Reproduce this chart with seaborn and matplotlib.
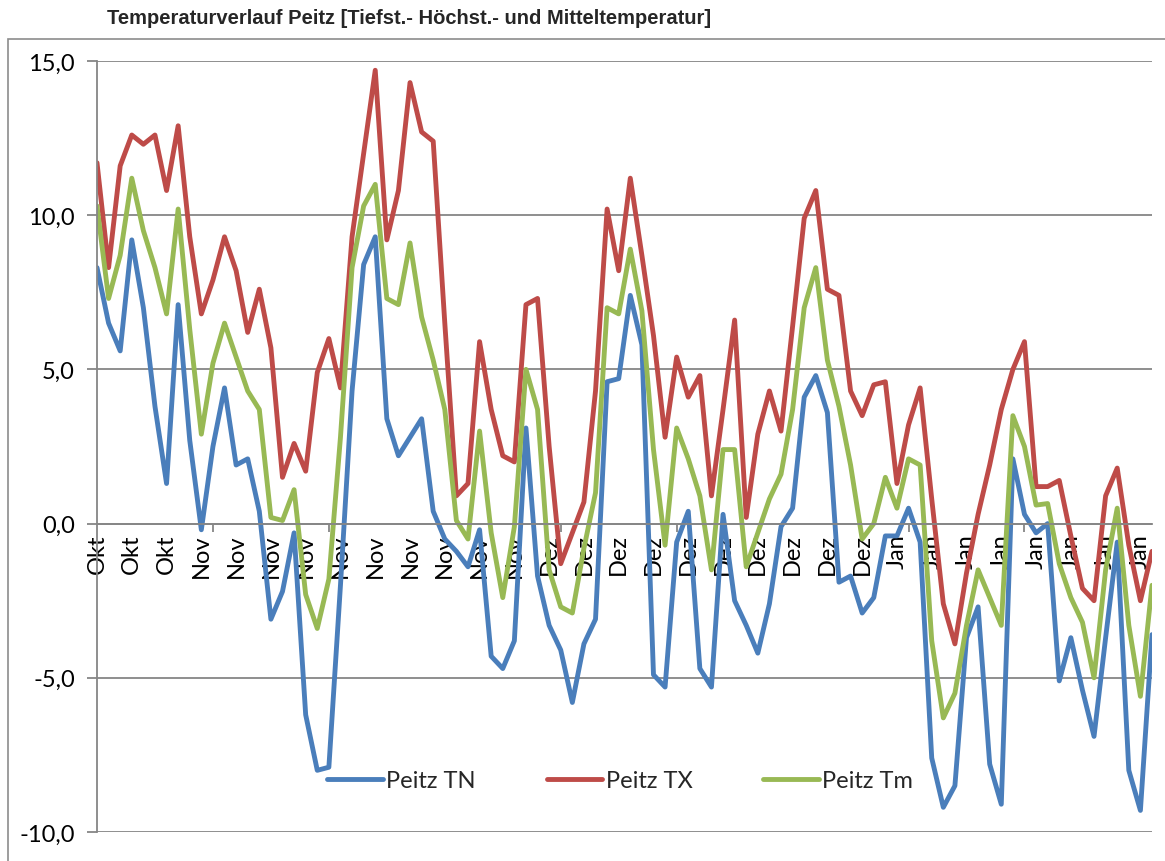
import numpy as np
import pandas as pd
import seaborn as sns
import matplotlib.pyplot as plt
from matplotlib.patches import Rectangle

# Tagesreihen Peitz
tn = [8.3, 6.5, 5.6, 9.2, 7.0, 3.8, 1.3, 7.1, 2.7, -0.2,
      2.5, 4.4, 1.9, 2.1, 0.4, -3.1, -2.2, -0.3, -6.2, -8.0,
      -7.9, -2.0, 4.3, 8.4, 9.3, 3.4, 2.2, 2.8, 3.4, 0.4,
      -0.5, -0.9, -1.4, -0.2, -4.3, -4.7, -3.8, 3.1, -1.7, -3.3,
      -4.1, -5.8, -3.9, -3.1, 4.6, 4.7, 7.4, 5.8, -4.9, -5.3,
      -0.6, 0.4, -4.7, -5.3, 0.3, -2.5, -3.3, -4.2, -2.6, -0.1,
      0.5, 4.1, 4.8, 3.6, -1.9, -1.7, -2.9, -2.4, -0.4, -0.4,
      0.5, -0.6, -7.6, -9.2, -8.5, -3.7, -2.7, -7.8, -9.1, 2.1,
      0.3, -0.3, 0.0, -5.1, -3.7, -5.4, -6.9, -3.7, -0.6, -8.0,
      -9.3, -3.6]
tx = [11.7, 8.3, 11.6, 12.6, 12.3, 12.6, 10.8, 12.9, 9.3, 6.8,
      7.9, 9.3, 8.2, 6.2, 7.6, 5.7, 1.5, 2.6, 1.7, 4.9,
      6.0, 4.4, 9.3, 12.0, 14.7, 9.2, 10.8, 14.3, 12.7, 12.4,
      6.5, 0.9, 1.3, 5.9, 3.7, 2.2, 2.0, 7.1, 7.3, 2.5,
      -1.3, -0.3, 0.7, 4.3, 10.2, 8.2, 11.2, 8.7, 6.1, 2.8,
      5.4, 4.1, 4.8, 0.9, 3.7, 6.6, 0.2, 2.9, 4.3, 3.0,
      6.4, 9.9, 10.8, 7.6, 7.4, 4.3, 3.5, 4.5, 4.6, 1.3,
      3.2, 4.4, 0.8, -2.6, -3.9, -1.6, 0.3, 1.9, 3.7, 5.0,
      5.9, 1.2, 1.2, 1.4, -0.4, -2.1, -2.5, 0.9, 1.8, -0.7,
      -2.5, -0.9]
tm = [10.3, 7.3, 8.7, 11.2, 9.5, 8.3, 6.8, 10.2, 6.3, 2.9,
      5.2, 6.5, 5.4, 4.3, 3.7, 0.2, 0.1, 1.1, -2.3, -3.4,
      -1.8, 2.8, 8.3, 10.3, 11.0, 7.3, 7.1, 9.1, 6.7, 5.3,
      3.7, 0.1, -0.5, 3.0, -0.3, -2.4, -0.1, 5.0, 3.7, -1.5,
      -2.7, -2.9, -0.8, 1.0, 7.0, 6.8, 8.9, 6.9, 2.4, -0.7,
      3.1, 2.1, 0.9, -1.5, 2.4, 2.4, -1.4, -0.3, 0.8, 1.6,
      3.7, 7.0, 8.3, 5.3, 3.8, 1.9, -0.5, 0.0, 1.5, 0.5,
      2.1, 1.9, -3.8, -6.3, -5.5, -3.3, -1.5, -2.4, -3.3, 3.5,
      2.5, 0.6, 0.65, -1.3, -2.4, -3.2, -5.0, -1.5, 0.5, -3.3,
      -5.6, -2.0]

series_names = ["Peitz TN", "Peitz TX", "Peitz Tm"]
tick_labels = ["Okt"] * 3 + ["Nov"] * 10 + ["Dez"] * 10 + ["Jan"] * 8
y_ticks = [-10, -5, 0, 5, 10, 15]
title = "Temperaturverlauf Peitz [Tiefst.- Höchst.- und Mitteltemperatur]"

colors = ["#4A7EBB", "#BE4B48", "#98B954"]
grey = "#868686"

n = len(tn)
day = np.arange(n)
df = pd.DataFrame({
    "tag": np.tile(day, 3),
    "temp": tn + tx + tm,
    "reihe": np.repeat(series_names, n),
})

sns.set_theme(style="white")
plt.rcParams["font.family"] = ["Lato", "DejaVu Sans"]

W, H = 1165, 862
fig = plt.figure(figsize=(W / 100, H / 100), dpi=100)
ax = fig.add_axes([97 / W, 1 - 833 / H, (1152 - 97) / W, (833 - 62) / H])

sns.lineplot(data=df, x="tag", y="temp", hue="reihe", palette=colors,
             linewidth=3.5, solid_capstyle="round", solid_joinstyle="round",
             ax=ax)

ax.set_xlim(0, n - 1)
ax.set_ylim(-10, 15)
ax.set_xlabel("")
ax.set_ylabel("")

# y-Achse
ax.set_yticks(y_ticks)
ax.set_yticklabels([f"{v:.1f}".replace(".", ",") for v in y_ticks])
ax.yaxis.grid(True, color=grey, linewidth=1.3)
ax.xaxis.grid(False)
ax.set_axisbelow(True)
ax.tick_params(axis="y", left=True, length=7, width=1.3, color=grey,
               pad=9, labelsize=17, labelcolor="black")

# x-Achse auf der Nulllinie
ax.set_xticks(np.arange(0, n, 3))
ax.set_xticklabels(tick_labels)
ax.set_xticks(np.arange(0, n, 10), minor=True)
ax.tick_params(axis="x", which="major", length=0, pad=7, labelsize=17,
               labelcolor="black", labelrotation=90)
ax.tick_params(axis="x", which="minor", bottom=True, length=6, width=1.3,
               color=grey, direction="out")
ax.spines["bottom"].set_position(("data", 0))
for s in ["bottom", "left"]:
    ax.spines[s].set_color(grey)
    ax.spines[s].set_linewidth(1.3)
ax.spines["top"].set_visible(False)
ax.spines["right"].set_visible(False)

handles, labels = ax.get_legend_handles_labels()
leg = ax.legend(handles, labels, loc="center", bbox_to_anchor=(0.496, 0.067),
                ncol=3, frameon=False, fontsize=17, handlelength=2.35,
                handletextpad=0.15, columnspacing=3.0)
for h in leg.get_lines():
    h.set_linewidth(3.5)

fig.text(107 / W, 1 - 19 / H, title, fontsize=14.5, fontweight="bold",
         family=["Liberation Sans", "DejaVu Sans"], va="center", ha="left")
fig.add_artist(Rectangle((8 / W, -0.01), 1.0, 1 - 40 / H + 0.01,
                         transform=fig.transFigure, fill=False,
                         edgecolor="#8c8c8c", linewidth=1.2))

fig.savefig("out.png", dpi=100)
